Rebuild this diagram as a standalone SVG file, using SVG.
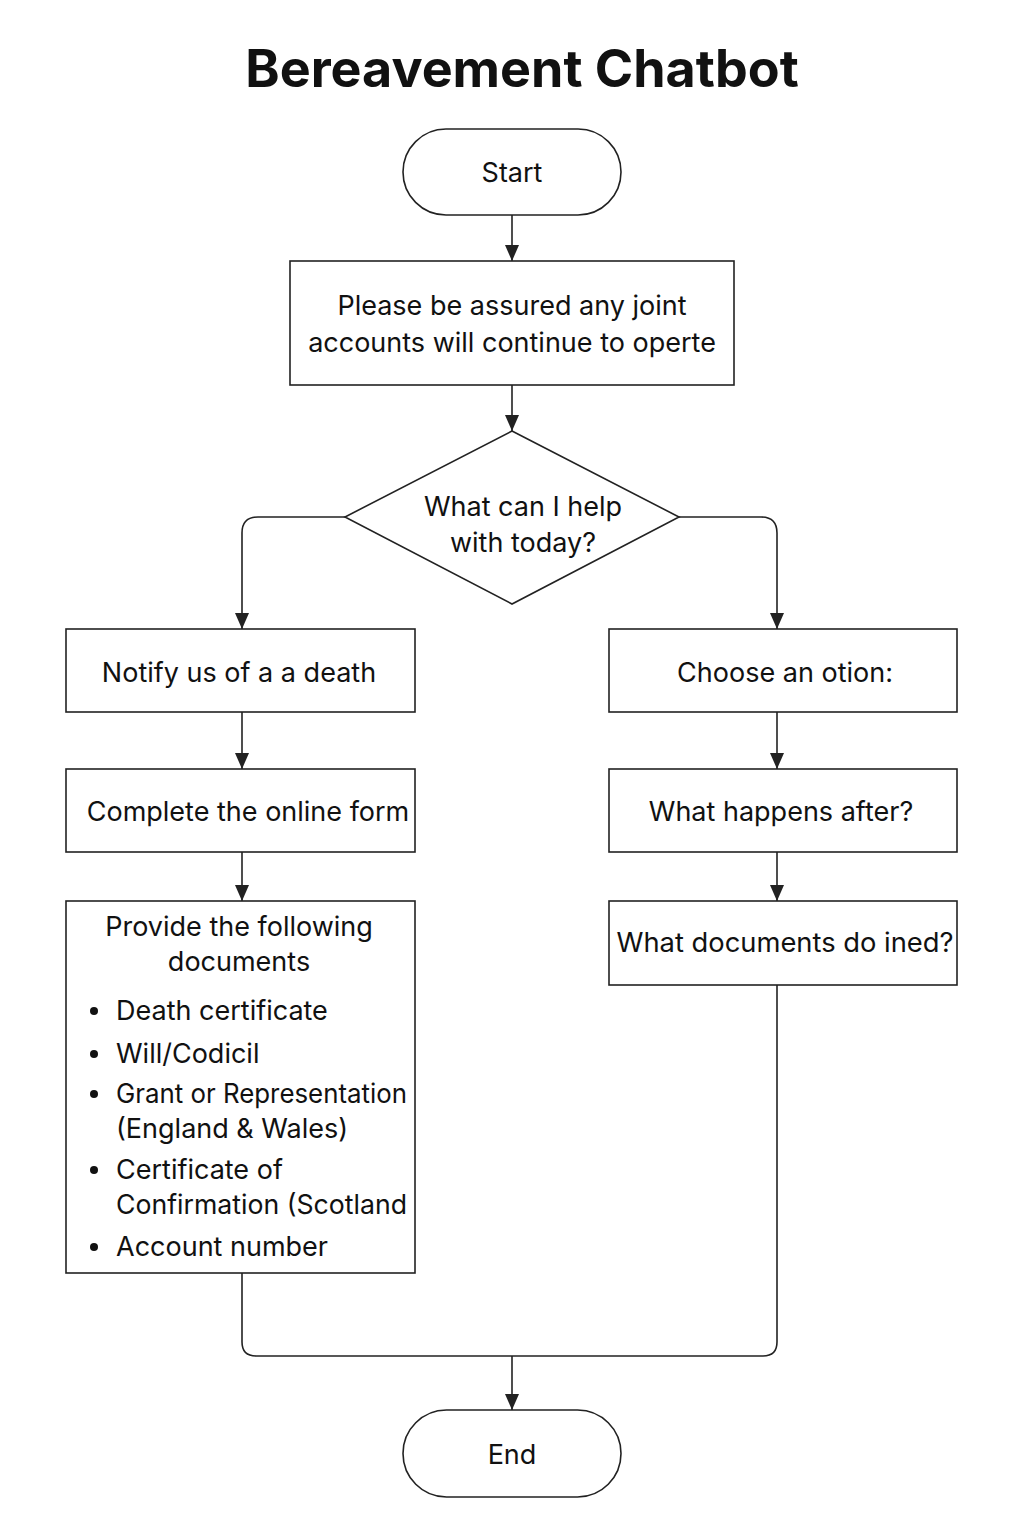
<svg xmlns="http://www.w3.org/2000/svg" width="1024" height="1536" viewBox="0 0 1024 1536">
<style>
.s{fill:#fff;stroke:#222;stroke-width:1.6}
.t{font-family:Inter,"Liberation Sans",sans-serif;font-size:27px;fill:#111;text-anchor:middle}
.l{font-family:Inter,"Liberation Sans",sans-serif;font-size:27px;fill:#111}
.c{fill:none;stroke:#222;stroke-width:1.6}
</style>
<defs>
<marker id="a" viewBox="0 0 16 14" refX="16" refY="7" markerWidth="16" markerHeight="14" markerUnits="userSpaceOnUse" orient="auto">
<path d="M0,0 L16,7 L0,14 Z" fill="#222"/>
</marker>
</defs>
<rect width="1024" height="1536" fill="#fff"/>
<text x="522" y="87" font-family="Inter,'Liberation Sans',sans-serif" font-size="52" font-weight="bold" text-anchor="middle" fill="#111">Bereavement Chatbot</text>
<g id="connectors">
<path class="c" d="M512,215 V261" marker-end="url(#a)"/>
<path class="c" d="M512,385 V431" marker-end="url(#a)"/>
<path class="c" d="M345,517 H258 Q242,517 242,533 V629" marker-end="url(#a)"/>
<path class="c" d="M679,517 H761 Q777,517 777,533 V629" marker-end="url(#a)"/>
<path class="c" d="M242,712 V769" marker-end="url(#a)"/>
<path class="c" d="M242,852 V901" marker-end="url(#a)"/>
<path class="c" d="M777,712 V769" marker-end="url(#a)"/>
<path class="c" d="M777,852 V901" marker-end="url(#a)"/>
<path class="c" d="M242,1273 V1342 Q242,1356 256,1356 H763 Q777,1356 777,1342 V985"/>
<path class="c" d="M512,1356 V1410" marker-end="url(#a)"/>
</g>
<g id="start">
<rect class="s" x="403" y="129" width="218" height="86" rx="43"/>
<text class="t" x="512" y="182">Start</text>
</g>
<g id="assured">
<rect class="s" x="290" y="261" width="444" height="124"/>
<text class="t" x="512" y="315">Please be assured any joint</text>
<text class="t" x="512" y="352">accounts will continue to operte</text>
</g>
<g id="decision">
<polygon class="s" points="512,431 679,517 512,604 345,517"/>
<text class="t" x="523" y="516">What can I help</text>
<text class="t" x="523" y="552">with today?</text>
</g>
<g id="notify">
<rect class="s" x="66" y="629" width="349" height="83"/>
<text class="t" x="239" y="682">Notify us of a a death</text>
</g>
<g id="complete">
<rect class="s" x="66" y="769" width="349" height="83"/>
<text class="t" x="248" y="821">Complete the online form</text>
</g>
<g id="provide">
<rect class="s" x="66" y="901" width="349" height="372"/>
<text class="t" x="239" y="936">Provide the following</text>
<text class="t" x="239" y="971">documents</text>
<g fill="#111">
<circle cx="94" cy="1011" r="4"/>
<circle cx="94" cy="1054" r="4"/>
<circle cx="94" cy="1094" r="4"/>
<circle cx="94" cy="1170" r="4"/>
<circle cx="94" cy="1247" r="4"/>
</g>
<text class="l" x="116" y="1020">Death certificate</text>
<text class="l" x="116" y="1063">Will/Codicil</text>
<text class="l" x="116" y="1103" textLength="291" lengthAdjust="spacingAndGlyphs">Grant or Representation</text>
<text class="l" x="116" y="1138">(England &amp; Wales)</text>
<text class="l" x="116" y="1179">Certificate of</text>
<text class="l" x="116" y="1214" textLength="291" lengthAdjust="spacingAndGlyphs">Confirmation (Scotland</text>
<text class="l" x="116" y="1256">Account number</text>
</g>
<g id="choose">
<rect class="s" x="609" y="629" width="348" height="83"/>
<text class="t" x="785" y="682">Choose an otion:</text>
</g>
<g id="happens">
<rect class="s" x="609" y="769" width="348" height="83"/>
<text class="t" x="781" y="821">What happens after?</text>
</g>
<g id="documents">
<rect class="s" x="609" y="901" width="348" height="84"/>
<text class="t" x="785" y="952" textLength="337" lengthAdjust="spacingAndGlyphs">What documents do ined?</text>
</g>
<g id="end">
<rect class="s" x="403" y="1410" width="218" height="87" rx="43.5"/>
<text class="t" x="512" y="1464">End</text>
</g>
</svg>
